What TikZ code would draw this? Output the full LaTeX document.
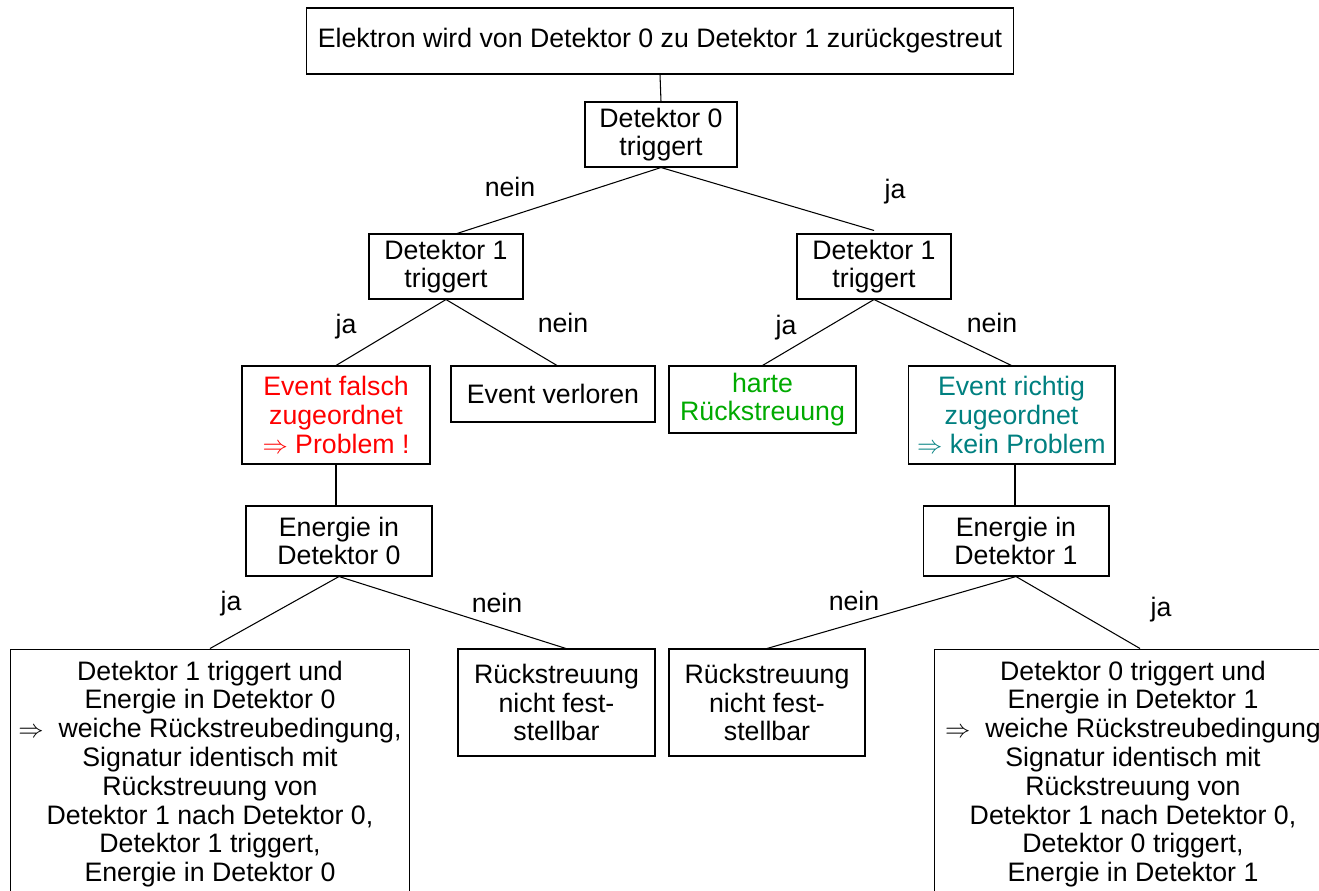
\documentclass[tikz,border=0pt]{standalone}
\usepackage{fontspec}
\setmainfont{Liberation Sans}
\definecolor{falschrot}{RGB}{255,0,0}
\definecolor{hartgruen}{RGB}{0,170,0}
\definecolor{richtigteal}{RGB}{0,128,128}
\begin{document}
\begin{tikzpicture}[x=0.02cm, y=-0.02cm,
    box/.style={draw, line width=0.6pt, align=center, inner sep=2pt, font=\fontsize{15.2}{16.4}\selectfont},
    lbl/.style={inner sep=1pt, font=\fontsize{15.2}{16.4}\selectfont},
    kante/.style={line width=0.6pt}]
    \useasboundingbox (0,0) rectangle (1319,890);
    \clip (0,0) rectangle (1319,890);
    % Start und erste Abfrage
    \node[box, minimum width=14.16cm, minimum height=1.32cm] (start) at (660,41) {Elektron wird von Detektor 0 zu Detektor 1 zurückgestreut};
    \node[box, minimum width=3.04cm, minimum height=1.30cm] (det0) at (661,134.5) {Detektor 0\\triggert};
    % Detektor 1 links/rechts
    \node[box, minimum width=3.08cm, minimum height=1.30cm] (det1l) at (446,266.5) {Detektor 1\\triggert};
    \node[box, minimum width=3.08cm, minimum height=1.30cm] (det1r) at (874,266.5) {Detektor 1\\triggert};
    % Ergebnisse
    \node[box, text=falschrot, minimum width=3.76cm, minimum height=1.96cm] (falsch) at (336,415) {Event falsch\\zugeordnet\\$\Rightarrow$ Problem !};
    \node[box, minimum width=4.08cm, minimum height=1.12cm] (verloren) at (553,394) {Event verloren};
    \node[box, text=hartgruen, minimum width=3.74cm, minimum height=1.34cm] (harte) at (762.5,399.5) {harte\\Rückstreuung};
    \node[box, text=richtigteal, minimum width=4.14cm, minimum height=1.96cm] (richtig) at (1011.5,415) {Event richtig\\zugeordnet\\$\Rightarrow$ kein Problem};
    % Energieabfrage
    \node[box, minimum width=3.72cm, minimum height=1.40cm] (en0) at (339,541) {Energie in\\Detektor 0};
    \node[box, minimum width=3.72cm, minimum height=1.40cm] (en1) at (1016,541) {Energie in\\Detektor 1};
    % untere Reihe
    \node[box, minimum width=8.00cm, minimum height=5.00cm] (weich0) at (210,774) {Detektor 1 triggert und\\Energie in Detektor 0\\$\Rightarrow$~ weiche Rückstreubedingung,\\Signatur identisch mit\\Rückstreuung von\\Detektor 1 nach Detektor 0,\\Detektor 1 triggert,\\Energie in Detektor 0};
    \node[box, minimum width=3.94cm, minimum height=2.14cm] (nicht0) at (556.5,702.5) {Rückstreuung\\nicht fest-\\stellbar};
    \node[box, minimum width=3.92cm, minimum height=2.14cm] (nicht1) at (767,702.5) {Rückstreuung\\nicht fest-\\stellbar};
    \node[box, minimum width=7.94cm, minimum height=5.00cm] (weich1) at (1133,774) {Detektor 0 triggert und\\Energie in Detektor 1\\$\Rightarrow$~ weiche Rückstreubedingung\\Signatur identisch mit\\Rückstreuung von\\Detektor 1 nach Detektor 0,\\Detektor 0 triggert,\\Energie in Detektor 1};
    % Verbindungen
    \draw[kante] (start.south) -- (det0.north);
    \draw[kante] (det0.south) -- ([xshift=0.22cm]det1l.north);
    \draw[kante] (det0.south) -- ([yshift=0.06cm]det1r.north);
    \draw[kante] (det1l.south) -- (falsch.north);
    \draw[kante] (det1l.south) -- ([xshift=0.08cm]verloren.north);
    \draw[kante] (det1r.south) -- (harte.north);
    \draw[kante] (det1r.south) -- (richtig.north);
    \draw[kante] (falsch.south) -- (falsch.south |- en0.north);
    \draw[kante] ([xshift=0.07cm]richtig.south) -- ([xshift=0.07cm]richtig.south |- en1.north);
    \draw[kante] (en0.south) -- (weich0.north);
    \draw[kante] (en0.south) -- ([xshift=0.19cm]nicht0.north);
    \draw[kante] (en1.south) -- (nicht1.north);
    \draw[kante] (en1.south) -- ([xshift=0.14cm]weich1.north);
    % ja/nein
    \node[lbl] (n1) at (510,187) {nein};
    \node[lbl] (j1) at (895,192) {ja};
    \node[lbl] (j2) at (346,327) {ja};
    \node[lbl] (n2) at (563,323) {nein};
    \node[lbl] (j3) at (786,328) {ja};
    \node[lbl] (n3) at (992,323) {nein};
    \node[lbl] (j4) at (231,604) {ja};
    \node[lbl] (n4) at (497,603) {nein};
    \node[lbl] (n5) at (854,601) {nein};
    \node[lbl] (j5) at (1161,610) {ja};
\end{tikzpicture}
\end{document}
